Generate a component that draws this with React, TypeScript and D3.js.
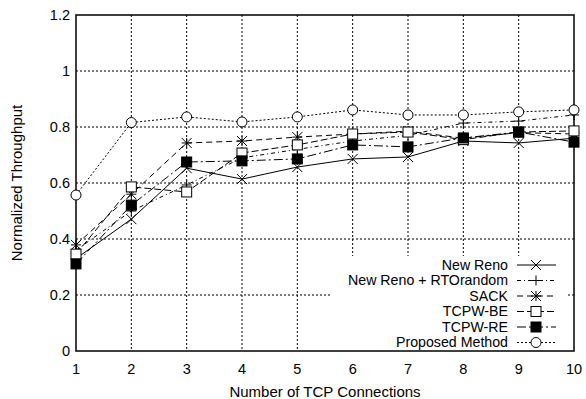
import React from 'react';
import * as d3 from 'd3';

const connections = [1, 2, 3, 4, 5, 6, 7, 8, 9, 10];
const newReno = [0.33, 0.471, 0.653, 0.614, 0.657, 0.686, 0.693, 0.75, 0.743, 0.76];
const rtoRandom = [0.36, 0.5, 0.593, 0.69, 0.72, 0.75, 0.77, 0.814, 0.821, 0.843];
const sack = [0.379, 0.56, 0.743, 0.75, 0.764, 0.775, 0.785, 0.76, 0.78, 0.775];
const tcpwBE = [0.346, 0.586, 0.568, 0.707, 0.736, 0.775, 0.782, 0.755, 0.782, 0.786];
const tcpwRE = [0.311, 0.521, 0.675, 0.679, 0.686, 0.736, 0.729, 0.761, 0.782, 0.746];
const proposed = [0.557, 0.816, 0.836, 0.818, 0.836, 0.861, 0.843, 0.843, 0.854, 0.861];

const yTicks = [0, 0.2, 0.4, 0.6, 0.8, 1, 1.2];
const yTickLabels = ['0', '0.2', '0.4', '0.6', '0.8', '1', '1.2'];

const series = [
  { name: 'New Reno', values: newReno, dash: '', marker: 'x' },
  { name: 'New Reno + RTOrandom', values: rtoRandom, dash: '4,3,1,3', marker: 'plus' },
  { name: 'SACK', values: sack, dash: '6,4', marker: 'star' },
  { name: 'TCPW-BE', values: tcpwBE, dash: '7,3', marker: 'box' },
  { name: 'TCPW-RE', values: tcpwRE, dash: '9,3,2,3', marker: 'fbox' },
  { name: 'Proposed Method', values: proposed, dash: '2,2', marker: 'circle' },
];

const W = 586;
const H = 399;
const left = 76, right = 574, top = 15, bottom = 351;
const font = '"Liberation Sans", Arial, sans-serif';

function Marker({ type, x, y }: { type: string; x: number; y: number }) {
  const s = 5;
  if (type === 'x') {
    return (
      <g stroke="#000" strokeWidth={1}>
        <line x1={x - s} y1={y - s} x2={x + s} y2={y + s} />
        <line x1={x - s} y1={y + s} x2={x + s} y2={y - s} />
      </g>
    );
  }
  if (type === 'plus') {
    return (
      <g stroke="#000" strokeWidth={1}>
        <line x1={x - s} y1={y} x2={x + s} y2={y} />
        <line x1={x} y1={y - s} x2={x} y2={y + s} />
      </g>
    );
  }
  if (type === 'star') {
    return (
      <g stroke="#000" strokeWidth={1}>
        <line x1={x - s} y1={y} x2={x + s} y2={y} />
        <line x1={x} y1={y - s} x2={x} y2={y + s} />
        <line x1={x - s} y1={y - s} x2={x + s} y2={y + s} />
        <line x1={x - s} y1={y + s} x2={x + s} y2={y - s} />
      </g>
    );
  }
  if (type === 'box' || type === 'fbox') {
    return (
      <rect x={x - s} y={y - s} width={2 * s} height={2 * s}
        fill={type === 'fbox' ? '#000' : '#fff'} stroke="#000" strokeWidth={1} />
    );
  }
  return <circle cx={x} cy={y} r={s} fill="#fff" stroke="#000" strokeWidth={1} />;
}

export default function App() {
  const x = d3.scaleLinear().domain([1, 10]).range([left, right]);
  const y = d3.scaleLinear().domain([0, 1.2]).range([bottom, top]);

  const line = d3.line<number>()
    .x((_, i) => x(connections[i]))
    .y(d => y(d));

  const legX = 508, legY0 = 265, legStep = 15.5;

  return (
    <svg width={W} height={H} style={{ position: 'absolute', left: 0, top: 0, background: '#fff' }}
      fontFamily={font}>
      {/* grid */}
      <g stroke="#000" strokeWidth={1} strokeDasharray="2,2">
        {yTicks.slice(1, -1).map(t => (
          <line key={'gy' + t} x1={left} x2={right} y1={y(t)} y2={y(t)} />
        ))}
        {connections.slice(1, -1).map(c => (
          <line key={'gx' + c} x1={x(c)} x2={x(c)} y1={top} y2={bottom} />
        ))}
      </g>

      {/* legend background */}
      <rect x={332} y={256} width={234} height={94} fill="#fff" />

      {/* frame */}
      <rect x={left} y={top} width={right - left} height={bottom - top}
        fill="none" stroke="#000" strokeWidth={1.5} />

      {/* tick labels */}
      {yTicks.map((t, i) => (
        <text key={'yl' + t} x={left - 6} y={y(t)} dy="0.35em" textAnchor="end" fontSize={14.5}>
          {yTickLabels[i]}
        </text>
      ))}
      {connections.map(c => (
        <text key={'xl' + c} x={x(c)} y={bottom + 23} textAnchor="middle" fontSize={14.5}>
          {c}
        </text>
      ))}

      <text x={325} y={397} textAnchor="middle" fontSize={15}>
        Number of TCP Connections
      </text>
      <text transform={`translate(22,${(top + bottom) / 2}) rotate(-90)`} textAnchor="middle" fontSize={15}>
        Normalized Throughput
      </text>

      {/* series */}
      {series.map(s => (
        <g key={s.name}>
          <path d={line(s.values) || ''} fill="none" stroke="#000" strokeWidth={1}
            strokeDasharray={s.dash || undefined} />
          {s.values.map((v, i) => (
            <Marker key={i} type={s.marker} x={x(connections[i])} y={y(v)} />
          ))}
        </g>
      ))}

      {/* legend */}
      {series.map((s, i) => {
        const ly = legY0 + i * legStep;
        return (
          <g key={'leg' + s.name}>
            <text x={legX} y={ly} dy="0.35em" textAnchor="end" fontSize={14.2}>{s.name}</text>
            <line x1={517} x2={556} y1={ly} y2={ly} stroke="#000" strokeWidth={1}
              strokeDasharray={s.dash || undefined} />
            <Marker type={s.marker} x={536} y={ly} />
          </g>
        );
      })}
    </svg>
  );
}
